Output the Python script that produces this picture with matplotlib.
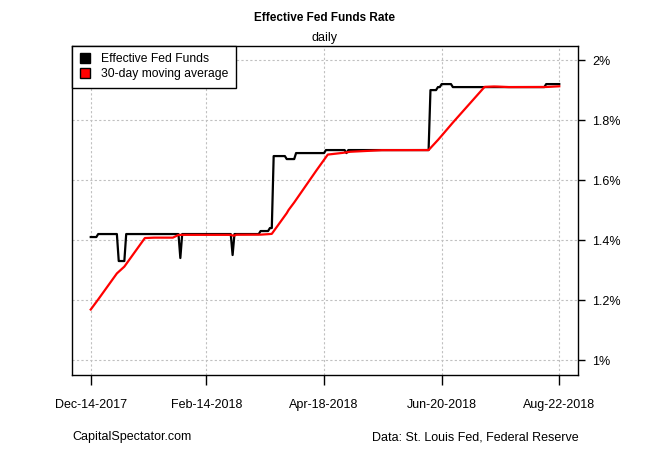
import pandas as pd
import matplotlib
matplotlib.use("Agg")
import matplotlib.pyplot as plt
import matplotlib.dates as mdates
from matplotlib.lines import Line2D

plt.rcParams['font.family'] = ['Liberation Sans', 'DejaVu Sans']

# effective fed funds rate, change points (value holds until next date)
change_dates = ["2017-11-14", "2017-12-14", "2017-12-18", "2017-12-29", "2018-01-02",
                "2018-01-31", "2018-02-01", "2018-02-28", "2018-03-01", "2018-03-15",
                "2018-03-20", "2018-03-22", "2018-03-29", "2018-04-03", "2018-04-19",
                "2018-04-30", "2018-05-01", "2018-06-14", "2018-06-18", "2018-06-20",
                "2018-06-26", "2018-08-15"]
change_rates = [1.16, 1.41, 1.42, 1.33, 1.42,
                1.34, 1.42, 1.35, 1.42, 1.43,
                1.44, 1.68, 1.67, 1.69, 1.70,
                1.69, 1.70, 1.90, 1.91, 1.92,
                1.91, 1.92]
start_date = "2017-12-14"
end_date = "2018-08-22"

tick_dates = ["2017-12-14", "2018-02-14", "2018-04-18", "2018-06-20", "2018-08-22"]
tick_labels = ["Dec-14-2017", "Feb-14-2018", "Apr-18-2018", "Jun-20-2018", "Aug-22-2018"]
y_ticks = [1.0, 1.2, 1.4, 1.6, 1.8, 2.0]
y_labels = ["1%", "1.2%", "1.4%", "1.6%", "1.8%", "2%"]

s = pd.Series(change_rates, index=pd.to_datetime(change_dates))
daily = s.reindex(pd.date_range(change_dates[0], end_date)).ffill()
ma = daily.rolling(30).mean()
daily = daily[start_date:]
ma = ma[start_date:]

fig = plt.figure(figsize=(6.5, 4.5), dpi=100)
ax = fig.add_axes([72/650, 1 - 375/450, 506/650, 329/450])

ax.plot(daily.index, daily.values, color="black", lw=1.6, zorder=3)
ax.plot(ma.index, ma.values, color="red", lw=1.6, zorder=4)

d0 = mdates.date2num(pd.Timestamp(start_date))
d1 = mdates.date2num(pd.Timestamp(end_date))
pad = (d1 - d0) * 0.04
ax.set_xlim(d0 - pad, d1 + pad)
ax.set_ylim(0.95, 2.047)

ax.set_xticks([mdates.date2num(pd.Timestamp(d)) for d in tick_dates])
ax.set_xticklabels(tick_labels)
ax.set_yticks(y_ticks)
ax.set_yticklabels(y_labels)
ax.yaxis.tick_right()
ax.tick_params(axis="x", length=7, width=1, pad=10, labelsize=9)
ax.tick_params(axis="y", length=5, width=1, pad=5, labelsize=9)

ax.grid(True, color="#c0c0c0", linestyle=(0, (2, 2)), lw=0.8)
ax.set_axisbelow(True)
for sp in ax.spines.values():
    sp.set_linewidth(1)

handles = [Line2D([], [], marker="s", color="none", markerfacecolor="black",
                  markeredgecolor="black", markersize=7),
           Line2D([], [], marker="s", color="none", markerfacecolor="red",
                  markeredgecolor="black", markersize=7)]
leg = ax.legend(handles, ["Effective Fed Funds", "30-day moving average"],
                loc="upper left", borderaxespad=0, fancybox=False, framealpha=1,
                edgecolor="black", fontsize=8.7, handlelength=1.0, handletextpad=0.8,
                labelspacing=0.25, borderpad=0.6)
leg.get_frame().set_linewidth(1)

fig.text(324/650, 1 - 18/450, "Effective Fed Funds Rate", ha="center", va="center",
         fontsize=8.5, fontweight="bold")
fig.text(324/650, 1 - 38/450, "daily", ha="center", va="center", fontsize=9)
fig.text(72/650, 1 - 437/450, "CapitalSpectator.com", ha="left", va="center", fontsize=9)
fig.text(579/650, 1 - 437/450, "Data: St. Louis Fed, Federal Reserve", ha="right",
         va="center", fontsize=9)

fig.savefig("out.png", dpi=100)
